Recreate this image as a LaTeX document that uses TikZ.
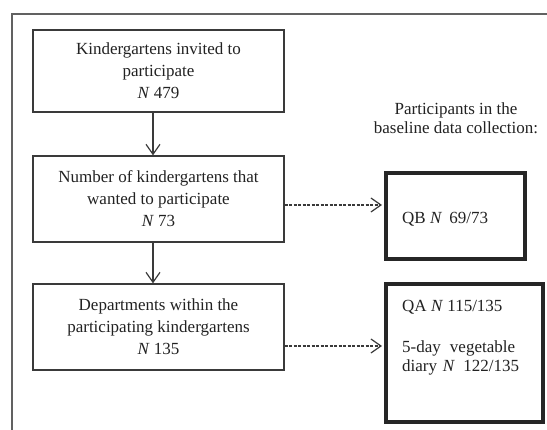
\documentclass[tikz,border=0pt]{standalone}
\usepackage{fontspec}
\setmainfont{Liberation Serif}
\usetikzlibrary{arrows.meta}
\definecolor{ln}{HTML}{3A3A3A}
\definecolor{tx}{HTML}{222222}
\begin{document}
\begin{tikzpicture}[x=1pt,y=1pt,
  flowbox/.style={draw=ln, line width=1.3pt, minimum width=251pt, inner sep=0pt,
    align=center, text=tx, font=\fontsize{17}{22}\selectfont},
  resbox/.style={draw=black!85, line width=4pt, inner sep=0pt},
  txt/.style={inner sep=0pt, text=tx, font=\fontsize{17}{22}\selectfont},
  arr/.style={draw=ln, line width=1.2pt, -{Straight Barb[length=10pt,width=14pt,line width=1.2pt]}},
  darr/.style={arr, dash pattern=on 3pt off 1.5pt}]
\useasboundingbox (0,0) rectangle (547,-430);
\fill[white] (0,0) rectangle (547,-430);
\draw[draw=ln!80, line width=1.5pt] (12,-430) -- (12,-14) -- (547,-14);

\node[flowbox, minimum height=82pt] (b1) at (158.5,-71) {Kindergartens invited to\\participate\\\textit{N} 479};
\node[flowbox, minimum height=86pt] (b2) at (158.5,-199) {Number of kindergartens that\\wanted to participate\\\textit{N} 73};
\node[flowbox, minimum height=86pt] (b3) at (158.5,-327) {Departments within the\\participating kindergartens\\\textit{N} 135};

\node[resbox, minimum width=139pt, minimum height=86pt] (qb) at (455.5,-216) {};
\node[resbox, minimum width=157pt, minimum height=138pt] (qa) at (464.5,-353) {};

\node[txt, anchor=base, align=center, font=\fontsize{17}{19}\selectfont] (head) at (456,-134) {Participants in the\\baseline data collection:};

\node[txt, anchor=base west] (qbt) at (402,-224) {QB \textit{N}\, 69/73};
\node[txt, anchor=base west] (qat1) at (402,-312) {QA \textit{N} 115/135};
\node[txt, anchor=base west, text width=122pt, align=left, font=\fontsize{17}{19}\selectfont] (qat2) at (402,-353) {5-day\hskip 0pt plus 1fill vegetable\hskip 0pt plus 1fill\mbox{}\hskip 4pt\\diary \textit{N}\, 122/135};

\coordinate (xa) at (153,0);
\coordinate (ya) at (0,-205);
\coordinate (yb) at (0,-346);
\draw[arr] (b1.south -| xa) -- (b2.north -| xa);
\draw[arr] (b2.south -| xa) -- (b3.north -| xa);
\draw[darr] (b2.east |- ya) -- ([xshift=-2pt]qb.west |- ya);
\draw[darr] (b3.east |- yb) -- ([xshift=-2pt]qa.west |- yb);
\end{tikzpicture}
\end{document}
